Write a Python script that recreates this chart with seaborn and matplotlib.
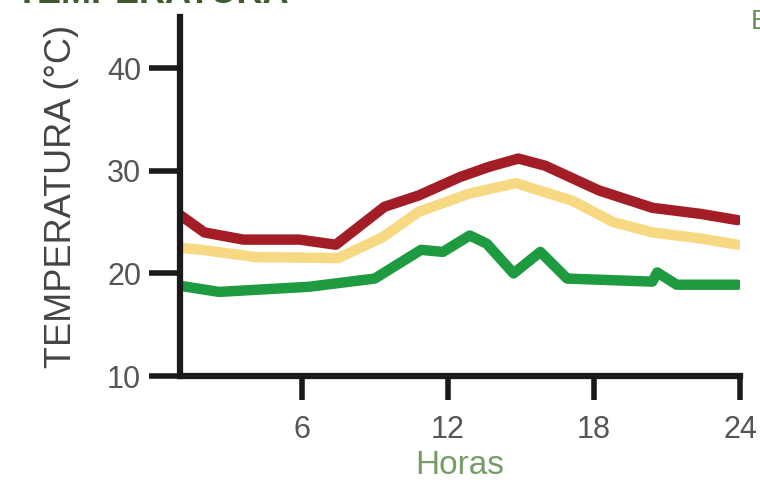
import pandas as pd
import matplotlib.pyplot as plt
import seaborn as sns

# valores
red_h = [1.0, 2.0, 3.6, 5.9, 7.4, 9.4, 10.8, 12.5, 13.7, 14.9, 16.0, 18.2, 20.4, 22.4, 23.9]
red_t = [25.7, 24.0, 23.3, 23.3, 22.8, 26.5, 27.6, 29.4, 30.4, 31.2, 30.5, 28.1, 26.4, 25.8, 25.2]

yel_h = [1.0, 1.9, 4.1, 7.5, 9.3, 10.8, 12.9, 14.8, 17.1, 18.8, 20.4, 22.4, 23.9]
yel_t = [22.5, 22.3, 21.6, 21.5, 23.5, 26.0, 27.8, 28.8, 27.1, 25.0, 24.0, 23.4, 22.8]

grn_h = [1.0, 2.6, 6.3, 9.0, 10.9, 11.8, 12.9, 13.6, 14.7, 15.8, 16.9, 20.4, 20.6, 21.4, 23.9]
grn_t = [18.8, 18.2, 18.7, 19.5, 22.3, 22.1, 23.7, 22.9, 20.0, 22.1, 19.5, 19.2, 20.1, 18.9, 18.9]

x_ticks = [6, 12, 18, 24]
y_ticks = [10, 20, 30, 40]

data = pd.concat([
    pd.DataFrame({'hora': red_h, 'temp': red_t, 'serie': 'max'}),
    pd.DataFrame({'hora': yel_h, 'temp': yel_t, 'serie': 'media'}),
    pd.DataFrame({'hora': grn_h, 'temp': grn_t, 'serie': 'min'}),
])

sns.set_theme(style='ticks')
plt.rcParams['font.family'] = ['Liberation Sans', 'DejaVu Sans']

fig = plt.figure(figsize=(7.6, 4.82), dpi=100)
ax = fig.add_axes([0.2368, 0.2199, 0.7369, 0.7448])

sns.lineplot(x='hora', y='temp', hue='serie', data=data, ax=ax,
             palette={'max': '#a31d26', 'media': '#f8d983', 'min': '#1e9a41'},
             lw=7.5, legend=False, sort=False, solid_capstyle='round', solid_joinstyle='round')

ax.set_xlim(1, 24)
ax.set_ylim(10, 45)
ax.set_xticks(x_ticks)
ax.set_yticks(y_ticks)
ax.tick_params(axis='both', colors='#1a1a1a', width=4, labelcolor='#555555', labelsize=22,
               bottom=True, left=True)
ax.tick_params(axis='x', length=17, pad=11)
ax.tick_params(axis='y', length=22, pad=6)

for side in ['top', 'right']:
    ax.spines[side].set_visible(False)
for side in ['left', 'bottom']:
    ax.spines[side].set_linewidth(4.5)
    ax.spines[side].set_color('#1a1a1a')

ax.set_xlabel('Horas', fontsize=24, color='#789c68', labelpad=4)
ax.set_ylabel('TEMPERATURA (°C)', fontsize=26, color='#444444', labelpad=20)

# textos cortados en los bordes, como en el original
fig.text(0.02, 1.013, 'TEMPERATURA', fontsize=26, fontweight='bold', color='#3f5a2c',
         va='center', ha='left')
fig.text(0.988, 0.955, 'E', fontsize=20, color='#6a8f5a', va='center', ha='left')

fig.savefig('out.png', dpi=100)
